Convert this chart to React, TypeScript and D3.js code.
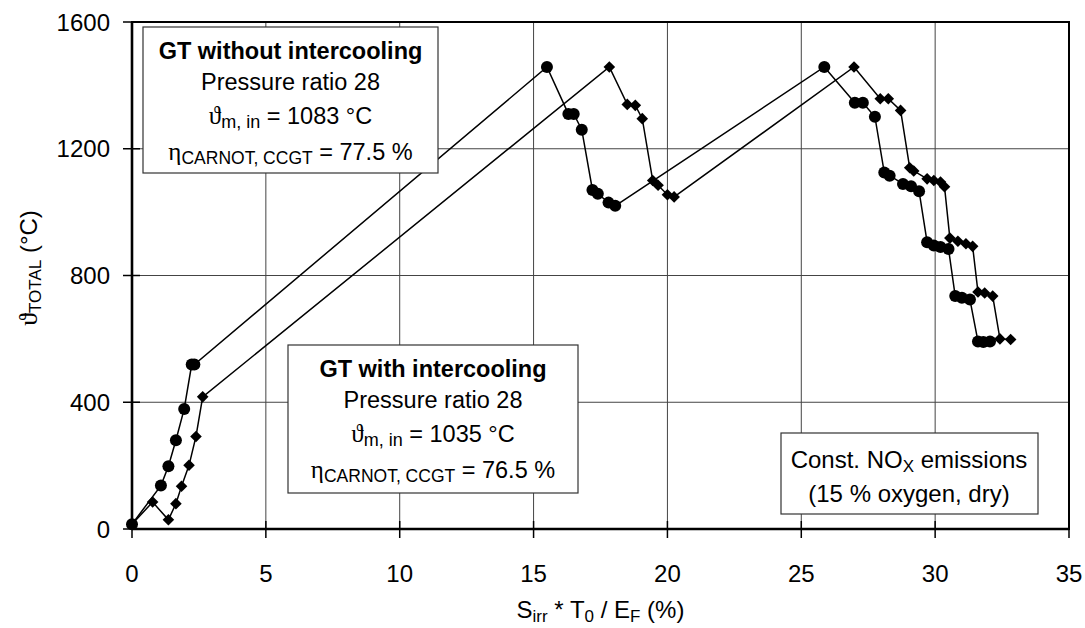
import React from "react";
import * as d3 from "d3";

// GT without intercooling (circles)
const noIcX = [0, 1.08, 1.36, 1.64, 1.95, 2.23, 2.33, 15.5, 16.3, 16.5, 16.8, 17.2, 17.4, 17.8, 18.05, 25.86, 27.0, 27.3, 27.75, 28.1, 28.3, 28.8, 29.1, 29.4, 29.7, 29.95, 30.2, 30.5, 30.75, 31.0, 31.3, 31.6, 31.8, 32.05];
const noIcY = [15, 137, 198, 280, 379, 519, 519, 1458, 1310, 1310, 1260, 1070, 1058, 1030, 1020, 1458, 1345, 1345, 1301, 1125, 1115, 1089, 1082, 1066, 905, 895, 890, 884, 735, 730, 724, 592, 590, 592];

// GT with intercooling (diamonds)
const icX = [0, 0.77, 1.36, 1.64, 1.85, 2.13, 2.39, 2.64, 17.83, 18.5, 18.8, 19.06, 19.45, 19.65, 20.0, 20.25, 26.97, 27.95, 28.25, 28.71, 29.05, 29.2, 29.7, 29.95, 30.2, 30.35, 30.55, 30.85, 31.15, 31.4, 31.6, 31.85, 32.15, 32.42, 32.82];
const icY = [15, 85, 29, 80, 135, 201, 292, 417, 1458, 1340, 1337, 1295, 1100, 1085, 1055, 1048, 1458, 1358, 1358, 1321, 1140, 1130, 1105, 1100, 1095, 1080, 918, 908, 900, 892, 748, 745, 735, 600, 598];

const xTicks = [0, 5, 10, 15, 20, 25, 30, 35];
const yTicks = [0, 400, 800, 1200, 1600];

const W = 1085;
const H = 628;
const FONT = "'Liberation Sans', Arial, sans-serif";
const GREEK = "'Liberation Serif', 'DejaVu Serif', serif";

export default function App() {
  const x = d3.scaleLinear().domain([0, 35]).range([132, 1069]);
  const y = d3.scaleLinear().domain([0, 1600]).range([529, 22]);
  const line = d3.line<[number, number]>().x((d) => x(d[0])).y((d) => y(d[1]));
  const noIc: [number, number][] = noIcX.map((v, i) => [v, noIcY[i]]);
  const ic: [number, number][] = icX.map((v, i) => [v, icY[i]]);
  const s = 5.8;
  const diamond = (cx: number, cy: number) =>
    `M${cx},${cy - s}L${cx + s},${cy}L${cx},${cy + s}L${cx - s},${cy}Z`;

  const [x0, x1] = x.range();
  const [y0, y1] = y.range();

  return (
    <svg width={W} height={H} style={{ position: "absolute", left: 0, top: 0, background: "#fff" }} fontFamily={FONT}>
      <rect x={0} y={0} width={W} height={H} fill="#fff" />
      {/* grid */}
      {xTicks.slice(1, -1).map((t) => (
        <line key={"gx" + t} x1={x(t)} x2={x(t)} y1={y1} y2={y0} stroke="#444" strokeWidth={1} />
      ))}
      {yTicks.slice(1, -1).map((t) => (
        <line key={"gy" + t} x1={x0} x2={x1} y1={y(t)} y2={y(t)} stroke="#444" strokeWidth={1} />
      ))}
      {/* frame */}
      <rect x={x0} y={y1} width={x1 - x0} height={y0 - y1} fill="none" stroke="#000" strokeWidth={2} />
      <line x1={x0} x2={x0} y1={y1} y2={y0} stroke="#000" strokeWidth={2.6} />
      <line x1={x0} x2={x1} y1={y0} y2={y0} stroke="#000" strokeWidth={2.6} />
      {/* ticks */}
      {xTicks.map((t) => (
        <g key={"xt" + t}>
          <line x1={x(t)} x2={x(t)} y1={y0 - 8} y2={y0 + 9} stroke="#000" strokeWidth={1.5} />
          <text x={x(t)} y={582} textAnchor="middle" fontSize={24}>{t}</text>
        </g>
      ))}
      {yTicks.map((t) => (
        <g key={"yt" + t}>
          <line x1={x0 - 9} x2={x0 + 8} y1={y(t)} y2={y(t)} stroke="#000" strokeWidth={1.5} />
          <text x={110} y={y(t) + 8.5} textAnchor="end" fontSize={24}>{t}</text>
        </g>
      ))}
      {/* series */}
      <path d={line(noIc) || ""} fill="none" stroke="#000" strokeWidth={1.5} />
      <path d={line(ic) || ""} fill="none" stroke="#000" strokeWidth={1.5} />
      {noIc.map((d, i) => (
        <circle key={"c" + i} cx={x(d[0])} cy={y(d[1])} r={6} fill="#000" />
      ))}
      {ic.map((d, i) => (
        <path key={"d" + i} d={diamond(x(d[0]), y(d[1]))} fill="#000" />
      ))}
      {/* box 1 */}
      <rect x={143} y={27} width={295} height={146} fill="#fff" stroke="#333" strokeWidth={1.2} />
      <text x={290.5} y={59} textAnchor="middle" fontSize={23.5} fontWeight="bold">GT without intercooling</text>
      <text x={290.5} y={90} textAnchor="middle" fontSize={23.5}>Pressure ratio 28</text>
      <text x={290.5} y={124} textAnchor="middle" fontSize={23.5}>
        <tspan fontFamily={GREEK} fontSize={25}>ϑ</tspan>
        <tspan fontSize={18} dy={4}>m, in</tspan>
        <tspan dy={-4}> = 1083 °C</tspan>
      </text>
      <text x={290.5} y={160} textAnchor="middle" fontSize={23.5}>
        <tspan fontFamily={GREEK} fontSize={25}>η</tspan>
        <tspan fontSize={17.5} dy={4}>CARNOT, CCGT</tspan>
        <tspan dy={-4}> = 77.5 %</tspan>
      </text>
      {/* box 2 */}
      <rect x={288} y={345} width={290} height={148} fill="#fff" stroke="#333" strokeWidth={1.2} />
      <text x={433} y={377} textAnchor="middle" fontSize={23.5} fontWeight="bold">GT with intercooling</text>
      <text x={433} y={408} textAnchor="middle" fontSize={23.5}>Pressure ratio 28</text>
      <text x={433} y={442} textAnchor="middle" fontSize={23.5}>
        <tspan fontFamily={GREEK} fontSize={25}>ϑ</tspan>
        <tspan fontSize={18} dy={4}>m, in</tspan>
        <tspan dy={-4}> = 1035 °C</tspan>
      </text>
      <text x={433} y={478} textAnchor="middle" fontSize={23.5}>
        <tspan fontFamily={GREEK} fontSize={25}>η</tspan>
        <tspan fontSize={17.5} dy={4}>CARNOT, CCGT</tspan>
        <tspan dy={-4}> = 76.5 %</tspan>
      </text>
      {/* box 3 */}
      <rect x={781} y={433} width={257} height={81} fill="#fff" stroke="#333" strokeWidth={1.2} />
      <text x={909} y={468} textAnchor="middle" fontSize={24}>
        <tspan>Const. NO</tspan>
        <tspan fontSize={17} dy={4}>X</tspan>
        <tspan dy={-4}> emissions</tspan>
      </text>
      <text x={909} y={502} textAnchor="middle" fontSize={24}>(15 % oxygen, dry)</text>
      {/* axis titles */}
      <text x={600.5} y={618} textAnchor="middle" fontSize={24}>
        <tspan>S</tspan>
        <tspan fontSize={17} dy={4}>irr</tspan>
        <tspan dy={-4}> * T</tspan>
        <tspan fontSize={17} dy={4}>0</tspan>
        <tspan dy={-4}> / E</tspan>
        <tspan fontSize={17} dy={4}>F</tspan>
        <tspan dy={-4}> (%)</tspan>
      </text>
      <text transform="translate(37,268) rotate(-90)" textAnchor="middle" fontSize={24}>
        <tspan fontFamily={GREEK} fontSize={26}>ϑ</tspan>
        <tspan fontSize={17} dy={4}>TOTAL</tspan>
        <tspan dy={-4}> (°C)</tspan>
      </text>
    </svg>
  );
}
